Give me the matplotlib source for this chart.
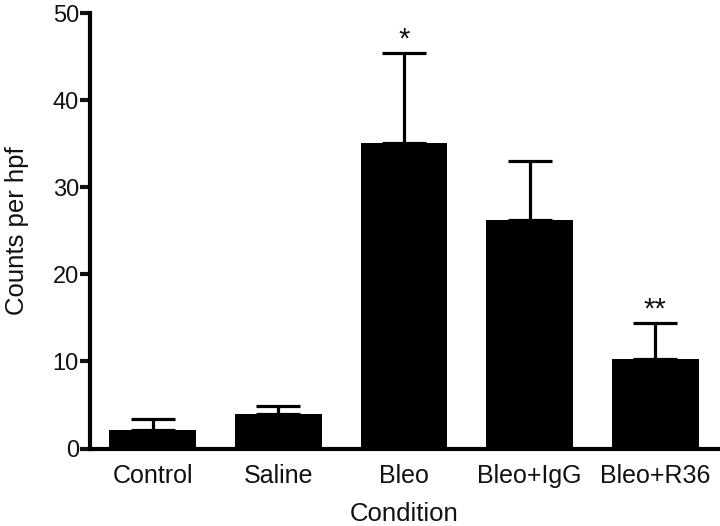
import numpy as np
import matplotlib.pyplot as plt

conditions = ["Control", "Saline", "Bleo", "Bleo+IgG", "Bleo+R36"]
means = [2.1, 4.0, 35.1, 26.3, 10.3]
errors = [1.3, 0.9, 10.3, 6.7, 4.1]
marks = ["", "", "*", "", "**"]

plt.rcParams["font.family"] = ["Liberation Sans", "DejaVu Sans"]

fig, ax = plt.subplots(figsize=(7.2, 5.26), dpi=100)
fig.subplots_adjust(left=90 / 720, right=718 / 720, bottom=77.5 / 526, top=1 - 13.3 / 526)

x = np.arange(len(conditions))
ax.bar(x, means, width=0.69, color="black", zorder=2)
ax.errorbar(x, means, yerr=[np.zeros(len(errors)), errors], fmt="none",
            ecolor="black", elinewidth=2.3, capsize=16, capthick=2.3, zorder=1)

# significance marks above the caps
for xi, m, e, s in zip(x, means, errors, marks):
    if s:
        ax.annotate(s, (xi, m + e), xytext=(0, 0), textcoords="offset points",
                    ha="center", va="bottom", fontsize=21, color="#111111")

ax.set_xlim(-0.5, 4.5)
ax.set_ylim(0, 50)
ax.set_yticks([0, 10, 20, 30, 40, 50])
ax.set_xticks(x)
ax.set_xticklabels(conditions)

for side in ["top", "right"]:
    ax.spines[side].set_visible(False)
for side in ["left", "bottom"]:
    ax.spines[side].set_linewidth(3)
    ax.spines[side].set_zorder(3)

ax.tick_params(axis="y", length=7, width=3, labelsize=17, pad=1, colors="#111111")
ax.tick_params(axis="x", length=0, labelsize=18, pad=11, colors="#111111")
ax.set_ylabel("Counts per hpf", fontsize=18.5, labelpad=17, color="#111111")
ax.set_xlabel("Condition", fontsize=18.5, labelpad=10, color="#111111")

fig.savefig("out.png", dpi=100)
